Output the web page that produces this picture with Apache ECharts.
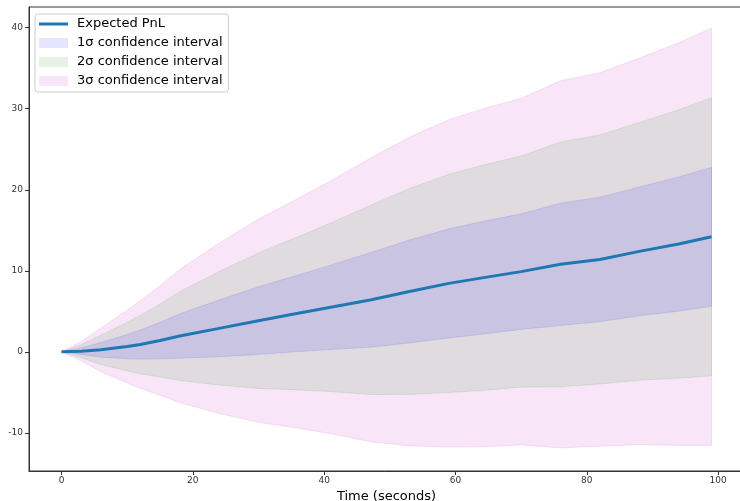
<!DOCTYPE html>
<html>
<head>
<meta charset="utf-8">
<script src="https://cdn.jsdelivr.net/npm/echarts@6/dist/echarts.min.js"></script>
<style>
  html, body { margin: 0; padding: 0; background: #fff; }
  #chart { width: 740px; height: 501px; }
</style>
</head>
<body>
<div id="chart"></div>
<script>
// values
const times = [0, 3, 6, 10, 12, 15, 18, 24, 30, 35, 41, 47, 53, 59, 65, 70, 76, 82, 88, 94, 99]
const expectedPnl = [0, 0.08, 0.25, 0.65, 0.9, 1.4, 1.95, 2.9, 3.85, 4.6, 5.5, 6.4, 7.45, 8.45, 9.25, 9.9, 10.8, 11.4, 12.4, 13.3, 14.2]
const sigma = [0, 0.4, 0.9, 1.5, 1.8, 2.25, 2.74, 3.5, 4.18, 4.63, 5.2, 5.83, 6.35, 6.73, 6.98, 7.13, 7.55, 7.68, 7.95, 8.28, 8.58]
const xTicks = [0, 20, 40, 60, 80, 100]
const yTicks = [-10, 0, 10, 20, 30, 40]

const bands = [
  { k: 3, name: '3σ confidence interval', color: 'rgba(191,0,191,0.1)' },
  { k: 2, name: '2σ confidence interval', color: 'rgba(0,128,0,0.1)' },
  { k: 1, name: '1σ confidence interval', color: 'rgba(0,0,255,0.1)' }
]

const font = 'DejaVu Sans'
const series = []

// 置信带：整块多边形，只在第一个数据项上画
bands.forEach(b => {
  const rows = times.map((t, i) => [t, expectedPnl[i] - b.k * sigma[i], expectedPnl[i] + b.k * sigma[i]])
  series.push({
    name: b.name,
    type: 'custom',
    data: rows,
    encode: { x: 0, y: [1, 2] },
    itemStyle: { color: b.color },
    silent: true,
    animation: false,
    renderItem: (params, api) => {
      if (params.dataIndex !== 0) return null
      const pts = []
      rows.forEach(r => pts.push(api.coord([r[0], r[2]])))
      for (let i = rows.length - 1; i >= 0; i--) pts.push(api.coord([rows[i][0], rows[i][1]]))
      return {
        type: 'polygon',
        shape: { points: pts },
        style: { fill: b.color, stroke: b.color, lineWidth: 1 }
      }
    }
  })
})

series.push({
  name: 'Expected PnL',
  type: 'line',
  data: times.map((t, i) => [t, expectedPnl[i]]),
  showSymbol: false,
  itemStyle: { color: '#1f77b4' },
  lineStyle: { width: 3, color: '#1f77b4' },
  z: 5,
  animation: false
})

const chart = echarts.init(document.getElementById('chart'))
chart.setOption({
  animation: false,
  grid: {
    left: 29, top: 7, width: 715, height: 464,
    outerBoundsMode: 'none',
    show: true, borderColor: '#333', borderWidth: 1, backgroundColor: 'transparent'
  },
  legend: {
    left: 35, top: 14,
    orient: 'vertical',
    itemWidth: 29, itemHeight: 10, itemGap: 5,
    padding: [3, 6, 4, 4],
    backgroundColor: 'rgba(255,255,255,0.8)',
    borderColor: '#ccc', borderWidth: 1, borderRadius: 3,
    textStyle: { fontFamily: font, fontSize: 13, lineHeight: 14, color: '#000', padding: [0, 0, 0, 4] },
    data: [
      { name: 'Expected PnL', icon: 'path://M0,0H29V3H0Z' },
      { name: '1σ confidence interval', icon: 'rect' },
      { name: '2σ confidence interval', icon: 'rect' },
      { name: '3σ confidence interval', icon: 'rect' }
    ],
    selectedMode: false
  },
  xAxis: {
    type: 'value',
    min: -4.95, max: 103.95,
    name: 'Time (seconds)',
    nameLocation: 'middle',
    nameGap: 16,
    nameTextStyle: { fontFamily: font, fontSize: 13, color: '#000' },
    splitLine: { show: false },
    axisLine: { onZero: false, lineStyle: { color: '#333', width: 1 } },
    axisTick: { length: 4, lineStyle: { color: '#333' }, customValues: xTicks },
    axisLabel: { fontFamily: font, fontSize: 9, color: '#333', margin: 5, customValues: xTicks }
  },
  yAxis: {
    type: 'value',
    min: -14.7, max: 42.55,
    splitLine: { show: false },
    axisLine: { show: true, onZero: false, lineStyle: { color: '#333', width: 1 } },
    axisTick: { show: true, length: 4, lineStyle: { color: '#333' }, customValues: yTicks },
    axisLabel: { fontFamily: font, fontSize: 9, color: '#333', margin: 6, customValues: yTicks }
  },
  series: series
})
</script>
</body>
</html>
